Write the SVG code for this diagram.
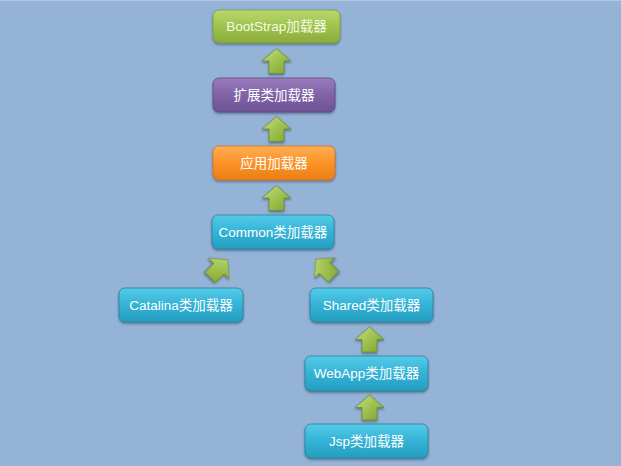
<svg xmlns="http://www.w3.org/2000/svg" width="621" height="466" viewBox="0 0 621 466">
<defs>
<linearGradient id="gGreen" x1="0" y1="0" x2="0" y2="1"><stop offset="0" stop-color="#b9d86f"/><stop offset="0.5" stop-color="#9fc24e"/><stop offset="1" stop-color="#8aab3b"/></linearGradient>
<linearGradient id="gPurple" x1="0" y1="0" x2="0" y2="1"><stop offset="0" stop-color="#9a7dbd"/><stop offset="0.5" stop-color="#8063a8"/><stop offset="1" stop-color="#6d5294"/></linearGradient>
<linearGradient id="gOrange" x1="0" y1="0" x2="0" y2="1"><stop offset="0" stop-color="#ffae55"/><stop offset="0.5" stop-color="#fb9327"/><stop offset="1" stop-color="#ea7e14"/></linearGradient>
<linearGradient id="gBlue" x1="0" y1="0" x2="0" y2="1"><stop offset="0" stop-color="#55cbe8"/><stop offset="0.5" stop-color="#33b3d6"/><stop offset="1" stop-color="#259ec0"/></linearGradient>
<linearGradient id="gArrow" x1="0" y1="0" x2="1" y2="1"><stop offset="0" stop-color="#c4df80"/><stop offset="0.55" stop-color="#9cbf4c"/><stop offset="1" stop-color="#7f9f34"/></linearGradient>
<filter id="sh" x="-10%" y="-20%" width="120%" height="160%"><feDropShadow dx="0" dy="1.5" stdDeviation="1.2" flood-color="#2b3b50" flood-opacity="0.55"/></filter>
<path id="arrowUp" d="M0,-12.5 L14.5,0 L7.5,0 L7.5,12.5 L-7.5,12.5 L-7.5,0 L-14.5,0 Z"/>
</defs>
<style>
.node rect{rx:6;ry:6;filter:url(#sh);stroke-width:0.8}
.node text{font-family:"Liberation Sans","Noto Sans CJK SC",sans-serif;font-size:13.5px;fill:#ffffff;text-anchor:middle;dominant-baseline:central}
.green{fill:url(#gGreen);stroke:#7f9c3a}
.purple{fill:url(#gPurple);stroke:#5f4683}
.orange{fill:url(#gOrange);stroke:#d2711a}
.blue{fill:url(#gBlue);stroke:#23849f}
.arr{fill:url(#gArrow);stroke:#6e8a2e;stroke-width:0.8;filter:url(#sh)}
</style>
<rect x="0" y="0" width="621" height="466" fill="#95b3d7"/>
<line x1="0" y1="0.5" x2="621" y2="0.5" stroke="#b4c8e2" stroke-width="1"/>
<g id="connectors">
<use href="#arrowUp" class="arr" transform="translate(276.5,61)"/>
<use href="#arrowUp" class="arr" transform="translate(276.5,129)"/>
<use href="#arrowUp" class="arr" transform="translate(276.5,198)"/>
<use href="#arrowUp" class="arr" transform="translate(219,268.6) rotate(45)"/>
<use href="#arrowUp" class="arr" transform="translate(324.6,268) rotate(-45)"/>
<use href="#arrowUp" class="arr" transform="translate(369.5,339.5)"/>
<use href="#arrowUp" class="arr" transform="translate(369.5,407.5)"/>
</g>
<g id="bootstrap" class="node"><rect class="green" x="213" y="10" width="127" height="33"/><text x="276.5" y="26.5" style="fill:#f5fbe2">BootStrap加载器</text></g>
<g id="ext" class="node"><rect class="purple" x="213" y="78" width="122" height="34"/><text x="274" y="95">扩展类加载器</text></g>
<g id="app" class="node"><rect class="orange" x="213" y="146" width="122" height="34"/><text x="274" y="163">应用加载器</text></g>
<g id="common" class="node"><rect class="blue" x="212" y="215" width="122" height="34"/><text x="273" y="232">Common类加载器</text></g>
<g id="catalina" class="node"><rect class="blue" x="119" y="288" width="124" height="34"/><text x="181" y="305">Catalina类加载器</text></g>
<g id="shared" class="node"><rect class="blue" x="310" y="288" width="123" height="34"/><text x="371.5" y="305">Shared类加载器</text></g>
<g id="webapp" class="node"><rect class="blue" x="305" y="356" width="123" height="35"/><text x="366.5" y="373.5">WebApp类加载器</text></g>
<g id="jsp" class="node"><rect class="blue" x="305" y="424" width="123" height="34"/><text x="366.5" y="441">Jsp类加载器</text></g>
</svg>
